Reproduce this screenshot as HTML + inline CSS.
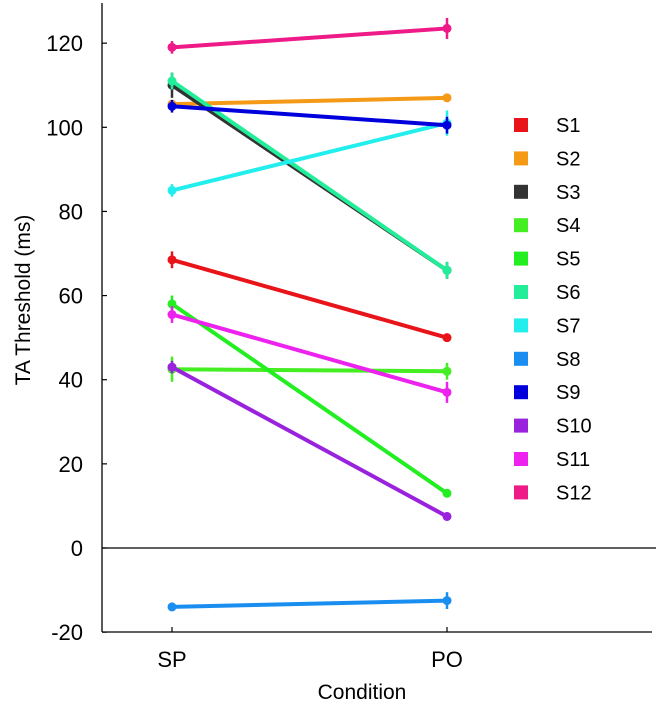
<!DOCTYPE html>
<html><head><meta charset="utf-8"><style>
body{margin:0;background:#fff;}
svg{display:block;font-family:"Liberation Sans",Arial,sans-serif;}
</style></head><body>
<svg id="chart" width="656" height="707"></svg>
<script>
const subjects=["S1","S2","S3","S4","S5","S6","S7","S8","S9","S10","S11","S12"];
const conditions=["SP","PO"];
const spValues=[68.5,105.5,110,42.5,58,111,85,-14,105,43,55.5,119];
const poValues=[50,107,66,42,13,66,101,-12.5,100.5,7.5,37,123.5];
const spErr=[2,1,3,3,2,2,1.5,1,1.5,1.5,2,1.5];
const poErr=[1,1,2,2,1,2,3,2,2,1,2.5,2.5];
const yTicks=[-20,0,20,40,60,80,100,120];
const colors=["#e8141a","#f59a16","#333333","#44ee22","#22ee22","#22ee99","#22eeee","#1a8ef0","#0000dd","#9922dd","#ee22ee","#ee1a88"];

const NS="http://www.w3.org/2000/svg";
const svg=document.getElementById('chart');
function el(t,a,p){const e=document.createElementNS(NS,t);for(const k in a)e.setAttribute(k,a[k]);(p||svg).appendChild(e);return e;}
const y=v=>548-4.207*v;
const xPos=i=>[172,447][i];

let a=el('line',{x1:102,y1:3,x2:102,y2:632,stroke:'#000','stroke-width':1.3});

a=el('line',{x1:102,y1:632,x2:652,y2:632,stroke:'#000','stroke-width':1.3});

a=el('line',{x1:102,y1:y(0),x2:656,y2:y(0),stroke:'#000','stroke-width':1.3});


yTicks.forEach(v=>{
  const t=el('line',{x1:102,y1:y(v),x2:107,y2:y(v),stroke:'#000','stroke-width':1.2});
  
  
  const l=el('text',{x:83,y:y(v)+8,'text-anchor':'end','font-size':22});
  l.textContent=v;
  
  
});
conditions.forEach((c,i)=>{
  const t=el('line',{x1:xPos(i),y1:632,x2:xPos(i),y2:627,stroke:'#000','stroke-width':1.2});
  
  
  const l=el('text',{x:xPos(i),y:667,'text-anchor':'middle','font-size':22});
  l.textContent=c;
  
  
});
let t=el('text',{x:362,y:699,'text-anchor':'middle','font-size':21});
t.textContent='Condition';

t=el('text',{x:0,y:0,'text-anchor':'middle','font-size':21,transform:'translate(30,300) rotate(-90)'});
t.textContent='TA Threshold (ms)';


subjects.forEach((s,i)=>{
  const g=el('g',{});
  
  
  const vals=[spValues[i],poValues[i]],errs=[spErr[i],poErr[i]];
  el('line',{x1:xPos(0),y1:y(vals[0]),x2:xPos(1),y2:y(vals[1]),stroke:colors[i],'stroke-width':4},g);
  vals.forEach((v,j)=>{
    el('line',{x1:xPos(j),y1:y(v+errs[j]),x2:xPos(j),y2:y(v-errs[j]),stroke:colors[i],'stroke-width':2.5},g);
    el('circle',{cx:xPos(j),cy:y(v),r:4.5,fill:colors[i]},g);
  });
  const ly=125+33.4*i;
  const lg=el('g',{});
  
  
  el('rect',{x:514,y:ly-7,width:14,height:14,fill:colors[i]},lg);
  const lt=el('text',{x:556,y:ly+7,'font-size':20},lg);
  lt.textContent=s;
});
</script>
</body></html>
